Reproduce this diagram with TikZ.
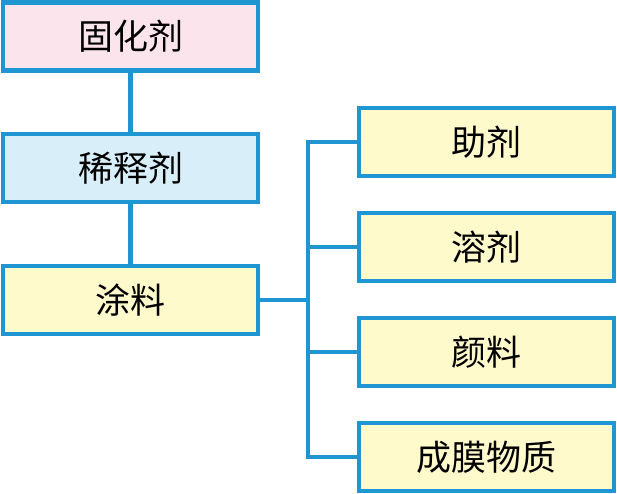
\documentclass[tikz,border=0pt]{standalone}
\usepackage{fontspec}
\newfontfamily\cjk{Noto Sans CJK SC}
\definecolor{bl}{HTML}{1E96D3}
\definecolor{pinkf}{HTML}{FCE4EC}
\definecolor{bluef}{HTML}{D8EFFA}
\definecolor{yelf}{HTML}{FFFACC}
\begin{document}
\begin{tikzpicture}[x=1pt,y=-1pt,
  box/.style={draw=bl,line width=4.5pt,minimum width=255pt,minimum height=68pt,inner sep=0pt,font=\cjk\fontsize{35}{40}\selectfont},
  conn/.style={draw=bl,line width=4.5pt}]
\useasboundingbox (0,0) rectangle (617,494);
\node[box,fill=pinkf] (a) at (130.5,36.5) {固化剂};
\node[box,fill=bluef] (b) at (130.5,168) {稀释剂};
\node[box,fill=yelf] (c) at (130.5,300) {涂料};
\node[box,fill=yelf] (d) at (486.5,142) {助剂};
\node[box,fill=yelf] (e) at (486.5,247) {溶剂};
\node[box,fill=yelf] (f) at (486.5,352) {颜料};
\node[box,fill=yelf] (g) at (486.5,457) {成膜物质};
\coordinate (top) at (308,142);
\coordinate (bot) at (308,457);
\coordinate (mid) at (308,300);
\draw[conn] (a) -- (b);
\draw[conn] (b) -- (c);
\draw[conn] (c.east) -- (mid);
\draw[conn,line cap=rect] (d.west) -- (top) -- (bot) -- (g.west);
\draw[conn] (e.west) -- (e.west -| top);
\draw[conn] (f.west) -- (f.west -| top);
\end{tikzpicture}
\end{document}
